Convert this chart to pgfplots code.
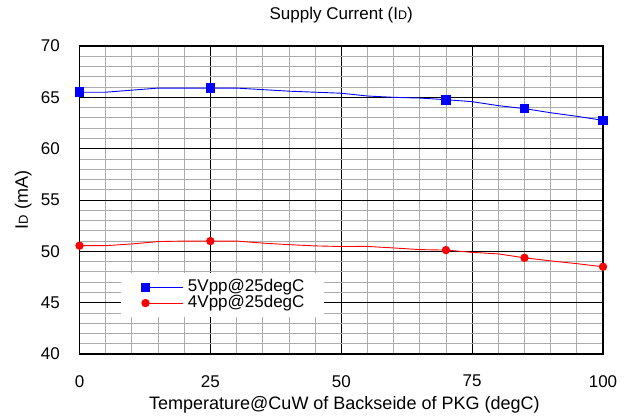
\documentclass[border=0pt]{standalone}
\usepackage{fontspec}
\setmainfont{Liberation Sans}
\usepackage{pgfplots}
\pgfplotsset{compat=1.18}
\begin{document}
\begin{tikzpicture}
\path[use as bounding box] (0,0) rectangle (628bp,416bp);
\begin{axis}[
  at={(79.5bp,62bp)}, anchor=south west,
  scale only axis, width=523.5bp, height=308bp,
  xmin=0, xmax=100, ymin=40, ymax=70,
  xtick={0,25,50,75,100}, ytick={40,45,...,70},
  minor x tick num=4, minor y tick num=4,
  grid=both,
  major grid style={black, line width=0.7bp},
  minor grid style={gray!65, line width=0.75bp},
  axis line style={black, line width=1.3bp},
  major tick length=0pt, minor tick length=0pt,
  tick label style={font=\fontsize{17bp}{20bp}\selectfont},
  /pgf/number format/assume math mode=true,
  xticklabel style={anchor=north, inner sep=0pt, yshift=-21bp},
  yticklabel style={anchor=east, inner sep=0pt, xshift=-19.5bp},
  title={Supply Current (I{\fontsize{12.5bp}{12bp}\selectfont D})},
  title style={at={(axis description cs:0.5,1.0552)}, anchor=south, inner sep=0pt, font=\fontsize{17bp}{20bp}\selectfont},
  xlabel={Temperature@CuW of Backseide of PKG (degC)},
  xlabel style={at={(axis description cs:0.506,-0.1364)}, anchor=north, inner sep=0pt, font=\fontsize{18bp}{20bp}\selectfont},
  ylabel={I{\fontsize{13bp}{12bp}\selectfont D} (mA)},
  ylabel style={at={(axis description cs:-0.0909,0.5)}, anchor=south, inner sep=0pt, font=\fontsize{18bp}{20bp}\selectfont},
  legend style={at={(axis description cs:0.0793,0.263)}, anchor=north west, fill=white, draw=none,
    inner xsep=20bp, inner ysep=6.3bp, column sep=5bp, row sep=0pt,
    font=\fontsize{17bp}{20bp}\selectfont,
    nodes={inner sep=0pt, text height=12bp, text depth=3.7bp, anchor=west}},
  legend image code/.code={\draw[mark repeat=2,mark phase=2,#1] plot coordinates {(0bp,0bp) (18.5bp,0bp) (37bp,0bp)};},
]
\addplot[blue, line width=0.9bp, mark=square*, mark size=4.3bp, mark indices={1,6,15,18,21}, mark options={solid, fill=blue}] coordinates {
(0,65.5) (5,65.5) (10,65.7) (15,65.9) (20,65.9) (25,65.9) (30,65.9) (35,65.75) (40,65.6) (45,65.5) (50,65.4)
(55,65.13) (60,65.0) (65,64.93) (70,64.77) (75,64.58) (80,64.19) (85,63.9) (90,63.5) (95,63.15) (100,62.76)};
\addlegendentry{5Vpp@25degC}
\addplot[red, line width=0.9bp, mark=*, mark size=3.7bp, mark indices={1,6,15,18,21}, mark options={solid, fill=red}] coordinates {
(0,50.55) (5,50.55) (10,50.72) (15,50.95) (20,51.0) (25,51.0) (30,51.0) (35,50.8) (40,50.65) (45,50.53) (50,50.47)
(55,50.48) (60,50.33) (65,50.17) (70,50.12) (75,49.9) (80,49.75) (85,49.37) (90,49.07) (95,48.8) (100,48.5)};
\addlegendentry{4Vpp@25degC}
\end{axis}
\end{tikzpicture}
\end{document}
